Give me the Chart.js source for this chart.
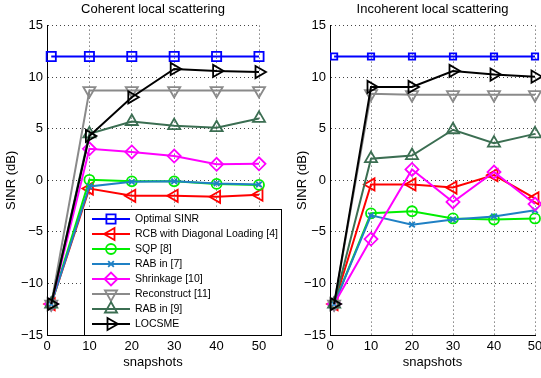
<!DOCTYPE html>
<html lang="en">
<head>
  <meta charset="UTF-8">
  <title>SINR versus snapshots</title>
  <script src="https://cdn.jsdelivr.net/npm/chart.js"></script>
  <style>
    html, body { margin: 0; padding: 0; background: #fff; overflow: hidden; width: 541px; height: 378px; }
    #left { position: absolute; left: 0; top: 0; z-index: 2; }
    #right { position: absolute; left: 270px; top: 0; z-index: 1; }
  </style>
</head>
<body>
  <canvas id="left" width="290" height="378"></canvas>
  <canvas id="right" width="290" height="378"></canvas>

  <script>
    // x positions and tick labels
    const snapshots = [1, 10, 20, 30, 40, 50];
    const xTicks = [0, 10, 20, 30, 40, 50];
    const yTicks = [-15, -10, -5, 0, 5, 10, 15];
    const seriesNames = ['Optimal SINR', 'RCB with Diagonal Loading [4]', 'SQP [8]', 'RAB in [7]',
      'Shrinkage [10]', 'Reconstruct [11]', 'RAB in [9]', 'LOCSME'];

    // Coherent local scattering (left panel), SINR in dB
    const cohOptimal = [12, 12, 12, 12, 12, 12];
    const cohRCB = [-12, -0.8, -1.5, -1.5, -1.6, -1.4];
    const cohSQP = [-12, 0.05, -0.1, -0.1, -0.35, -0.45];
    const cohRAB7 = [-12, -0.6, -0.15, -0.1, -0.3, -0.4];
    const cohShrink = [-12, 3.05, 2.75, 2.35, 1.55, 1.6];
    const cohRecon = [-12, 8.7, 8.7, 8.7, 8.7, 8.7];
    const cohRAB9 = [-12, 4.5, 5.7, 5.3, 5.1, 6.0];
    const cohLOCSME = [-12, 4.3, 8.05, 10.8, 10.6, 10.5];

    // Incoherent local scattering (right panel), SINR in dB
    const incOptimal = [12, 12, 12, 12, 12, 12];
    const incRCB = [-12, -0.4, -0.4, -0.7, 0.5, -1.75];
    const incSQP = [-12, -3.2, -3.0, -3.7, -3.8, -3.7];
    const incRAB7 = [-12, -3.4, -4.3, -3.8, -3.5, -2.9];
    const incShrink = [-12, -5.7, 1.05, -2.1, 0.8, -2.3];
    const incRecon = [-12, 8.4, 8.3, 8.3, 8.3, 8.3];
    const incRAB9 = [-12, 2.1, 2.4, 4.9, 3.6, 4.5];
    const incLOCSME = [-12, 9.05, 9.05, 10.6, 10.25, 10.05];

    // styles
    const colors = ['#0000ff', '#ff0000', '#00ee00', '#1f80c4', '#ff00ff', '#8a8a8a', '#3b6e52', '#000000'];
    const markers = ['rect', 'triangle', 'circle', 'crossRot', 'rectRot', 'triangle', 'triangle', 'triangle'];
    const rotations = [0, 270, 0, 0, 0, 180, 0, 90];
    const radii = [6.5, 7, 5, 4, 6.5, 7, 7, 7];

    const minus = v => String(v).replace('-', '\u2212');

    function buildDatasets(series, squareRadius) {
      return series.map((vals, i) => ({
        label: seriesNames[i],
        data: snapshots.map((x, k) => ({ x: x, y: vals[k] })),
        borderColor: colors[i],
        backgroundColor: colors[i],
        borderWidth: 2,
        pointStyle: markers[i],
        pointRotation: rotations[i],
        pointRadius: i === 0 ? squareRadius : radii[i],
        pointHoverRadius: i === 0 ? squareRadius : radii[i],
        pointBorderWidth: 1.8,
        pointBorderColor: colors[i],
        pointBackgroundColor: 'rgba(0,0,0,0)',
        tension: 0,
        clip: false,
        order: series.length - 1 - i
      }));
    }

    // legend drawn inside the left panel, overlapping the lower half
    const boxLegend = {
      id: 'boxLegend',
      afterDatasetsDraw(chart) {
        const ctx = chart.ctx;
        const x0 = 84, y0 = 209, x1 = 282, y1 = 335;
        ctx.save();
        ctx.fillStyle = '#fff';
        ctx.fillRect(x0, y0, x1 - x0, y1 - y0);
        ctx.strokeStyle = '#000';
        ctx.lineWidth = 1;
        ctx.strokeRect(x0 + 0.5, y0 + 0.5, x1 - x0 - 1, y1 - y0);
        chart.data.datasets.forEach((ds, i) => {
          const y = 219 + i * 15;
          ctx.strokeStyle = ds.borderColor;
          ctx.lineWidth = 2;
          ctx.beginPath();
          ctx.moveTo(92, y);
          ctx.lineTo(130, y);
          ctx.stroke();
          ctx.fillStyle = 'rgba(0,0,0,0)';
          ctx.lineWidth = 1.8;
          Chart.helpers.drawPoint(ctx, {
            pointStyle: ds.pointStyle, rotation: ds.pointRotation,
            radius: ds.pointRadius, borderWidth: 1.8
          }, 111, y);
          ctx.fillStyle = '#000';
          ctx.font = '10.5px "Liberation Sans", Arial, sans-serif';
          ctx.textBaseline = 'middle';
          ctx.textAlign = 'left';
          ctx.fillText(ds.label, 135, y + 0.5);
        });
        ctx.restore();
      }
    };

    const font = { family: '"Liberation Sans", Arial, sans-serif', size: 13 };

    function makeChart(id, title, series, padLeft, yWidth, plotWidth, squareRadius, plugins) {
      const canvas = document.getElementById(id);
      return new Chart(canvas, {
        type: 'line',
        data: { datasets: buildDatasets(series, squareRadius) },
        options: {
          responsive: false,
          animation: false,
          events: [],
          layout: { padding: { left: padLeft, right: canvas.width - padLeft - yWidth - plotWidth, top: 0, bottom: 0 } },
          plugins: {
            legend: { display: false },
            tooltip: { enabled: false },
            title: {
              display: true, text: title, color: '#000', fullSize: false,
              font: { ...font, weight: 'normal' }, padding: { top: 2, bottom: 8 }
            }
          },
          scales: {
            x: {
              type: 'linear', min: 0, max: 50,
              afterBuildTicks: s => { s.ticks = xTicks.map(v => ({ value: v })); },
              afterFit: s => { s.height = 43; },
              ticks: { color: '#000', font: font, padding: 4, maxRotation: 0, callback: minus },
              grid: { color: '#444', lineWidth: 1, drawTicks: false },
              border: { display: true, color: '#000', width: 1, dash: [1, 3] },
              title: { display: true, text: 'snapshots', color: '#000', font: font, padding: { top: 0, bottom: 8 } }
            },
            y: {
              type: 'linear', min: -15, max: 15,
              afterBuildTicks: s => { s.ticks = yTicks.map(v => ({ value: v })); },
              afterFit: s => { s.width = yWidth; },
              ticks: { color: '#000', font: font, padding: 4, callback: minus },
              grid: { color: '#444', lineWidth: 1, drawTicks: false },
              border: { display: true, color: '#000', width: 1, dash: [1, 3] },
              title: { display: true, text: 'SINR (dB)', color: '#000', font: font, padding: { top: 4, bottom: 0 } }
            }
          }
        },
        plugins: plugins
      });
    }

    makeChart('right', 'Incoherent local scattering',
      [incOptimal, incRCB, incSQP, incRAB7, incShrink, incRecon, incRAB9, incLOCSME], 21, 39, 205, 4.5, []);
    makeChart('left', 'Coherent local scattering',
      [cohOptimal, cohRCB, cohSQP, cohRAB7, cohShrink, cohRecon, cohRAB9, cohLOCSME], 0, 47, 212, 6.5, [boxLegend]);
  </script>
</body>
</html>
